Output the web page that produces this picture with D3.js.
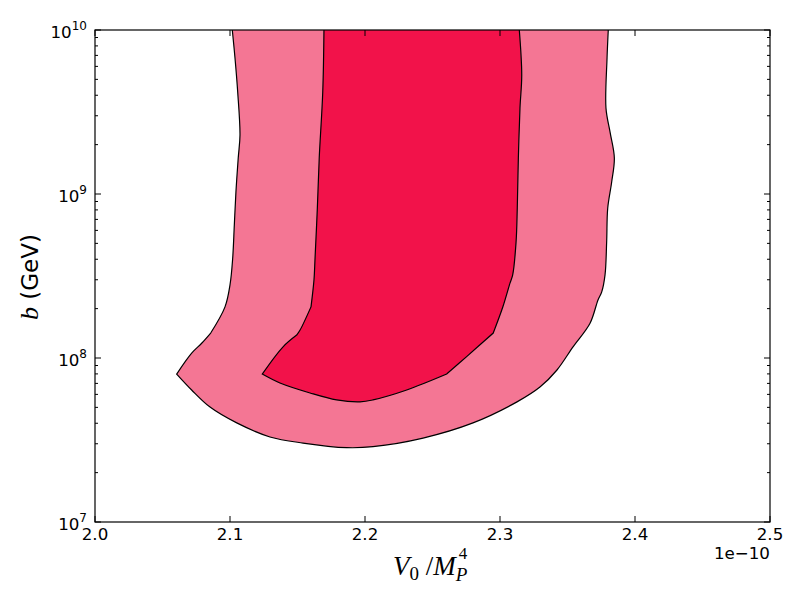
<!DOCTYPE html>
<html>
<head>
<meta charset="UTF-8">
<title>Contours b vs V0/MP^4</title>
<style>
  body { margin: 0; background: #fff; }
  svg { display: block; font-family: "DejaVu Sans", sans-serif; }
</style>
<script src="https://d3js.org/d3.v7.min.js"></script>
</head>
<body>
<svg width="800" height="600"></svg>
<script>
// outer (light) contour, V0/MP^4 in units of 1e-10, b in GeV
const outerV0 = [2.1017, 2.1037, 2.1057, 2.1074, 2.1061, 2.1044, 2.1032, 2.1020, 2.1000, 2.0963,
  2.0857, 2.0790, 2.0716, 2.0605, 2.0716, 2.0852, 2.1050, 2.1296, 2.1541, 2.1864, 2.2059,
  2.2430, 2.2800, 2.3126, 2.3296, 2.3422, 2.3541, 2.3667, 2.3726, 2.3753, 2.3778, 2.3790,
  2.3798, 2.3827, 2.3847, 2.3815, 2.3785, 2.3793, 2.3802];
const outerB = [1e10, 6.75e9, 4.19e9, 2.29e9, 1.66e9, 1.03e9, 6.47e8, 4.07e8, 2.79e8, 2.05e8,
  1.42e8, 1.23e8, 1.07e8, 7.98e7, 6.38e7, 5.02e7, 4.02e7, 3.30e7, 3.03e7, 2.84e7, 2.88e7,
  3.25e7, 4.02e7, 5.40e7, 6.65e7, 8.45e7, 1.17e8, 1.63e8, 2.26e8, 2.52e8, 3.21e8, 5.09e8,
  8.22e8, 1.18e9, 1.66e9, 2.39e9, 3.34e9, 6.75e9, 1e10];
const outerCorners = [10, 13];

// inner (dark) contour
const innerV0 = [2.1696, 2.1687, 2.1661, 2.1647, 2.1630, 2.1622, 2.1600, 2.1519, 2.1494, 2.1393,
  2.1239, 2.1370, 2.1593, 2.1790, 2.1963, 2.2059, 2.2309, 2.2605, 2.2753, 2.2950, 2.3022,
  2.3074, 2.3094, 2.3119, 2.3128, 2.3136, 2.3148, 2.3161, 2.3143];
const innerB = [1e10, 4.19e9, 1.66e9, 8.22e8, 4.07e8, 2.99e8, 2.05e8, 1.48e8, 1.38e8, 1.17e8,
  7.98e7, 7.04e7, 6.12e7, 5.55e7, 5.40e7, 5.55e7, 6.38e7, 7.98e7, 1.02e8, 1.42e8, 2.06e8,
  2.86e8, 3.21e8, 5.09e8, 8.22e8, 1.66e9, 3.34e9, 5.32e9, 1e10];
const innerCorners = [6, 8, 10, 17, 19];

const xTicks = [2.0, 2.1, 2.2, 2.3, 2.4, 2.5];
const xTickLabels = ["2.0", "2.1", "2.2", "2.3", "2.4", "2.5"];
const yTickExps = [7, 8, 9, 10];

const svg = d3.select("svg");
const mLeft = 95, mRight = 770, mTop = 30, mBottom = 522;

const x = d3.scaleLinear().domain([2.0, 2.5]).range([mLeft, mRight]);
const y = d3.scaleLog().domain([1e7, 1e10]).range([mBottom, mTop]);

svg.append("clipPath").attr("id", "plotclip")
  .append("rect").attr("x", mLeft).attr("y", mTop)
  .attr("width", mRight - mLeft).attr("height", mBottom - mTop);

const plot = svg.append("g").attr("clip-path", "url(#plotclip)");

// smooth pieces between the sharp corners, joined into one subpath
function contourPath(pts, corners) {
  const line = d3.line().curve(d3.curveCatmullRom.alpha(0.5));
  const cuts = [0, ...corners, pts.length - 1];
  let d = "";
  for (let k = 0; k < cuts.length - 1; k++) {
    const s = line(pts.slice(cuts[k], cuts[k + 1] + 1));
    d += k === 0 ? s : s.replace(/^M[^CL]*/, "");
  }
  return d;
}

function drawContour(vs, bs, corners, fill) {
  const pts = vs.map((v, i) => [x(v), y(bs[i])]);
  const d = contourPath(pts, corners);
  plot.append("path").attr("d", d + "Z")
    .attr("fill", fill).attr("stroke", "none");
  plot.append("path").attr("d", d)
    .attr("fill", "none").attr("stroke", "#000").attr("stroke-width", 1.2)
    .attr("stroke-linejoin", "miter");
}
drawContour(outerV0, outerB, outerCorners, "#f47694");
drawContour(innerV0, innerB, innerCorners, "#f2124a");

// ticks (inward, on all four sides)
const ticks = svg.append("g").attr("stroke", "#000").attr("stroke-width", 1);
xTicks.forEach(t => {
  ticks.append("line").attr("x1", x(t)).attr("x2", x(t)).attr("y1", mBottom).attr("y2", mBottom - 6);
  ticks.append("line").attr("x1", x(t)).attr("x2", x(t)).attr("y1", mTop).attr("y2", mTop + 6);
});
const minorY = [];
for (let e = 7; e < 10; e++) for (let m = 2; m <= 9; m++) minorY.push(m * Math.pow(10, e));
minorY.forEach(v => {
  ticks.append("line").attr("x1", mLeft).attr("x2", mLeft + 3).attr("y1", y(v)).attr("y2", y(v));
  ticks.append("line").attr("x1", mRight).attr("x2", mRight - 3).attr("y1", y(v)).attr("y2", y(v));
});
yTickExps.forEach(e => {
  const v = Math.pow(10, e);
  ticks.append("line").attr("x1", mLeft).attr("x2", mLeft + 6).attr("y1", y(v)).attr("y2", y(v));
  ticks.append("line").attr("x1", mRight).attr("x2", mRight - 6).attr("y1", y(v)).attr("y2", y(v));
});

// frame
svg.append("rect").attr("x", mLeft).attr("y", mTop)
  .attr("width", mRight - mLeft).attr("height", mBottom - mTop)
  .attr("fill", "none").attr("stroke", "#000").attr("stroke-width", 1.2);

// x tick labels
svg.append("g").selectAll("text").data(xTicks).join("text")
  .attr("x", d => x(d)).attr("y", mBottom + 18)
  .attr("text-anchor", "middle").attr("font-size", 16.7)
  .text((d, i) => xTickLabels[i]);

// y tick labels 10^e
yTickExps.forEach(e => {
  const t = svg.append("text").attr("x", mLeft - 8).attr("y", y(Math.pow(10, e)) + 8)
    .attr("text-anchor", "end").attr("font-size", 16.7);
  t.append("tspan").text("10");
  t.append("tspan").attr("dy", -8).attr("font-size", 12).text(e);
});

// offset text
svg.append("text").attr("x", mRight).attr("y", 559)
  .attr("text-anchor", "end").attr("font-size", 16.7).text("1e\u221210");

// x label V_0 / M_P^4 (superscript stacked over the subscript)
const xl = svg.append("text").attr("x", 393).attr("y", 575)
  .attr("font-family", "Liberation Serif, serif").attr("font-size", 27);
xl.append("tspan").attr("font-style", "italic").text("V");
xl.append("tspan").attr("dy", 5).attr("font-size", 19).text("0");
xl.append("tspan").attr("dy", -5).text(" /");
xl.append("tspan").attr("font-style", "italic").text("M");
xl.append("tspan").attr("dy", 6).attr("font-size", 19).attr("font-style", "italic").text("P");
const pPos = xl.node().getStartPositionOfChar(5);
svg.append("text").attr("x", pPos.x + 3).attr("y", 559)
  .attr("font-family", "Liberation Serif, serif").attr("font-size", 17).text("4");

// y label b (GeV)
const yl = svg.append("text")
  .attr("transform", "translate(38,277) rotate(-90)")
  .attr("text-anchor", "middle").attr("font-size", 23);
yl.append("tspan").attr("font-family", "Liberation Serif, serif")
  .attr("font-style", "italic").attr("font-size", 26).text("b");
yl.append("tspan").text(" (GeV)");
</script>
</body>
</html>
